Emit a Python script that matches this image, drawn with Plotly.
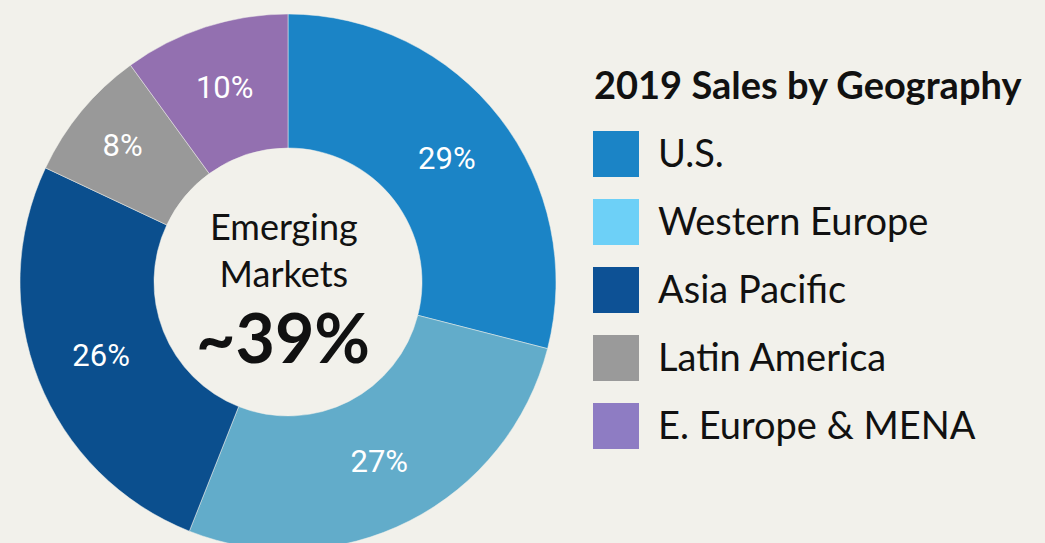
import plotly.graph_objects as go

regions = ["U.S.", "Western Europe", "Asia Pacific", "Latin America", "E. Europe & MENA"]
shares = [29, 27, 26, 8, 10]
slice_colors = ["#1b84c6", "#62acca", "#0b4f8e", "#999999", "#9370b0"]
legend_colors = ["#1b84c6", "#6dd0f7", "#0d5195", "#9a9a9a", "#8e7cc3"]
legend_title = "2019 Sales by Geography"
center_lines = ["Emerging<br>Markets", "~39%"]

W, H = 1045, 560
BG = "#f2f1eb"
TXT_FONT = "Lato"

fig = go.Figure()

fig.add_trace(go.Pie(
    labels=regions,
    values=shares,
    sort=False,
    direction="clockwise",
    rotation=0,
    hole=0.5,
    marker=dict(colors=slice_colors, line=dict(color="rgba(242,241,235,0.5)", width=1)),
    texttemplate="%{value}%",
    textposition="inside",
    insidetextorientation="horizontal",
    textfont=dict(family="Roboto", size=31, color="white"),
    domain=dict(x=[20 / W, 556 / W], y=[(H - 550) / H, (H - 14) / H]),
    showlegend=False,
    hoverinfo="skip",
))

idx = list(range(len(regions)))

# custom legend: square swatches
fig.add_trace(go.Scatter(
    x=[616] * len(regions),
    y=idx,
    mode="markers",
    marker=dict(symbol="square", size=46, color=legend_colors, line=dict(width=0)),
    showlegend=False,
    hoverinfo="skip",
    cliponaxis=False,
))
# custom legend: labels
fig.add_trace(go.Scatter(
    x=[658] * len(regions),
    y=[i + 0.05 for i in idx],
    mode="text",
    text=regions,
    textposition="middle right",
    textfont=dict(family=TXT_FONT, size=38, color="#111111"),
    showlegend=False,
    hoverinfo="skip",
    cliponaxis=False,
))

top = -154 / 68
fig.update_layout(
    width=W, height=H,
    margin=dict(l=0, r=0, t=0, b=0),
    paper_bgcolor=BG, plot_bgcolor="rgba(0,0,0,0)",
    uniformtext=dict(minsize=31, mode="show"),
    xaxis=dict(range=[0, W], visible=False, domain=[0, 1], fixedrange=True),
    yaxis=dict(range=[top + H / 68, top], visible=False, domain=[0, 1], fixedrange=True),
    annotations=[
        dict(text="<b>" + legend_title + "</b>", x=592 / W, y=(H - 84) / H, xref="paper", yref="paper",
             xanchor="left", yanchor="middle", showarrow=False,
             font=dict(family=TXT_FONT, size=38, color="#111111")),
        dict(text=center_lines[0], x=284 / W, y=(H - 249) / H, xref="paper", yref="paper",
             xanchor="center", yanchor="middle", showarrow=False,
             font=dict(family=TXT_FONT, size=36, color="#111111")),
        dict(text="<b>" + center_lines[1] + "</b>", x=283 / W, y=(H - 336) / H, xref="paper", yref="paper",
             xanchor="center", yanchor="middle", showarrow=False,
             font=dict(family=TXT_FONT, size=68, color="#111111")),
    ],
)

fig.write_html(
    "out.html",
    config={"displayModeBar": False},
    post_script="document.body.style.margin='0px';document.body.style.overflow='hidden';"
                "document.body.style.background='#f2f1eb';",
)
